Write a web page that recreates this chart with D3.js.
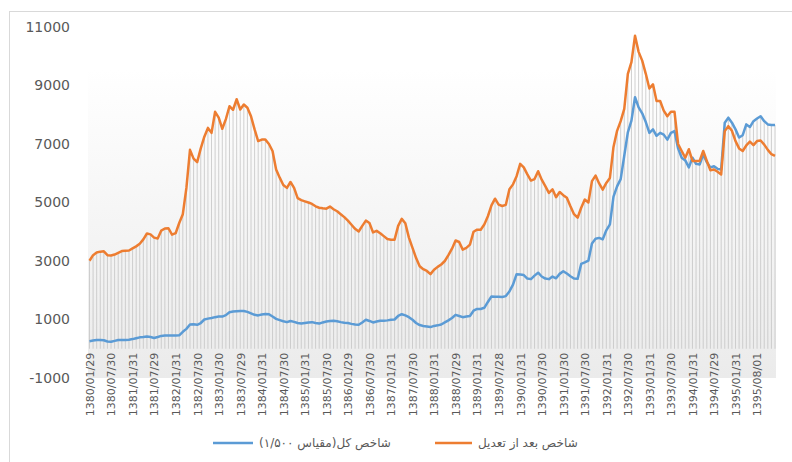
<!DOCTYPE html>
<html>
<head>
<meta charset="utf-8">
<script src="https://cdn.jsdelivr.net/npm/d3@7"></script>
<style>
  body { margin: 0; background: #fff; }
  svg { display: block; font-family: "DejaVu Sans", sans-serif; }
</style>
</head>
<body>
<script>
var width = 792,
    height = 462;

// six-monthly tick labels (every 6th monthly category)
var tickLabels = ['1380/01/29', '1380/07/30', '1381/01/31', '1381/07/29', '1382/01/31', '1382/07/30',
  '1383/01/30', '1383/07/29', '1384/01/31', '1384/07/30', '1385/01/31', '1385/07/30',
  '1386/01/29', '1386/07/30', '1387/01/31', '1387/07/30', '1388/01/31', '1388/07/29',
  '1389/01/31', '1389/07/28', '1390/01/31', '1390/07/30', '1391/01/30', '1391/07/30',
  '1392/01/31', '1392/07/30', '1393/01/31', '1393/07/30', '1394/01/31', '1394/07/29',
  '1395/01/31', '1395/08/01'];
var labelEvery = 6;

// شاخص کل (مقیاس ۱/۵۰۰) - monthly
var totalIndex = [
  260, 280, 300, 300, 290, 250, 240, 270, 300, 300, 300, 310, 330, 360, 390, 400, 420, 400, 370, 400,
  440, 450, 450, 450, 450, 460, 580, 680, 830, 840, 820, 880, 1000, 1030, 1050, 1080, 1100, 1100, 1150, 1250,
  1270, 1280, 1290, 1290, 1260, 1210, 1160, 1140, 1170, 1190, 1180, 1100, 1020, 980, 940, 910, 950, 920, 880, 860,
  880, 900, 910, 880, 860, 900, 930, 950, 960, 940, 910, 890, 880, 850, 830, 820, 900, 990, 950, 900,
  930, 960, 960, 970, 990, 1000, 1120, 1180, 1140, 1080, 990, 880, 810, 780, 760, 740, 780, 800, 830, 900,
  970, 1050, 1160, 1120, 1080, 1100, 1120, 1300, 1360, 1360, 1400, 1600, 1790, 1780, 1780, 1770, 1800, 1960, 2190, 2550,
  2540, 2520, 2400, 2380, 2500, 2600, 2470, 2400, 2380, 2470, 2410, 2560, 2650, 2570, 2480, 2400, 2390, 2900, 2950, 3010,
  3600, 3760, 3790, 3740, 4050, 4250, 5200, 5550, 5800, 6600, 7400, 7800, 8600, 8250, 8050, 7750, 7380, 7500, 7280, 7380,
  7320, 7150, 7380, 7440, 6850, 6530, 6440, 6200, 6530, 6320, 6300, 6640, 6380, 6200, 6240, 6150, 6130, 7730, 7900, 7730,
  7500, 7220, 7300, 7670, 7580, 7780, 7870, 7950, 7780, 7670, 7650, 7650
];

// شاخص بعد از تعدیل - monthly
var adjustedIndex = [
  3010, 3200, 3290, 3320, 3330, 3200, 3190, 3220, 3280, 3340, 3350, 3360, 3430, 3500, 3590, 3740, 3940, 3910, 3800, 3770,
  4040, 4110, 4120, 3900, 3950, 4300, 4600, 5500, 6800, 6500, 6380, 6850, 7250, 7550, 7380, 8100, 7900, 7520, 7850, 8290,
  8170, 8530, 8180, 8350, 8240, 7950, 7500, 7100, 7150, 7150, 7000, 6760, 6130, 5850, 5600, 5500, 5700, 5500, 5150, 5080,
  5040, 5000, 4950, 4870, 4820, 4800, 4790, 4860, 4770, 4700, 4600, 4500, 4380, 4240, 4100, 4010, 4200, 4380, 4300, 3980,
  4030, 3950, 3850, 3750, 3730, 3730, 4200, 4440, 4290, 3800, 3450, 3100, 2820, 2720, 2660, 2550, 2700, 2800, 2880, 3000,
  3200, 3420, 3700, 3650, 3390, 3450, 3560, 4000, 4070, 4070, 4250, 4530, 4900, 5130, 4930, 4880, 4920, 5450, 5620, 5900,
  6320, 6200, 5960, 5750, 5800, 6070, 5780, 5560, 5330, 5450, 5180, 5360, 5250, 5160, 4870, 4600, 4480, 4820, 5100, 5000,
  5730, 5920, 5650, 5440, 5670, 5840, 6900, 7450, 7780, 8200, 9400, 9800, 10700, 10150, 9850, 9400, 8900, 9040, 8470, 8470,
  8140, 7950, 8100, 8100, 7000, 6760, 6530, 6820, 6420, 6420, 6420, 6760, 6420, 6100, 6130, 6050, 5960, 7440, 7610, 7450,
  7100, 6850, 6760, 6950, 7080, 6960, 7100, 7120, 6980, 6800, 6650, 6590
];

var yTicks = [-1000, 1000, 3000, 5000, 7000, 9000, 11000];

var seriesNames = ['شاخص کل(مقیاس ۱/۵۰۰)', 'شاخص بعد از تعدیل'];
var blue = '#5b9bd5',
    orange = '#ed7d31';

var plot = { left: 88, right: 776, top: 27, bottom: 378 };

var svg = d3.select('body')
  .append('svg')
  .attr('width', width)
  .attr('height', height);

// chart border
svg.append('rect')
  .attr('x', 9.5).attr('y', 11.5)
  .attr('width', width).attr('height', height)
  .style('fill', '#fff')
  .style('stroke', '#d9d9d9');

var defs = svg.append('defs');
var grad = defs.append('linearGradient')
  .attr('id', 'bg')
  .attr('x1', 0).attr('y1', 0).attr('x2', 0).attr('y2', 1);
grad.append('stop').attr('offset', '0').attr('stop-color', '#ffffff');
grad.append('stop').attr('offset', '0.12').attr('stop-color', '#ffffff');
grad.append('stop').attr('offset', '1').attr('stop-color', '#ebebeb');

svg.append('rect')
  .attr('x', plot.left).attr('y', plot.top)
  .attr('width', plot.right - plot.left)
  .attr('height', plot.bottom - plot.top)
  .style('fill', 'url(#bg)');

var idx = d3.range(adjustedIndex.length);

var xScale = d3.scalePoint()
  .domain(idx)
  .range([89.5, 775]);

var yScale = d3.scaleLinear()
  .domain([-1000, 11000])
  .range([plot.bottom, plot.top]);

// drop lines
svg.append('g')
  .selectAll('line')
  .data(idx)
  .enter()
  .append('line')
  .attr('x1', (d) => xScale(d))
  .attr('x2', (d) => xScale(d))
  .attr('y1', yScale(0))
  .attr('y2', (d) => yScale(Math.max(totalIndex[d], adjustedIndex[d])))
  .style('stroke', '#c4c4c4')
  .style('stroke-width', 0.8);

var line = (arr) => d3.line()
  .x((d) => xScale(d))
  .y((d) => yScale(arr[d]));

svg.append('path')
  .datum(idx)
  .attr('d', line(totalIndex))
  .style('fill', 'none')
  .style('stroke', blue)
  .style('stroke-width', 2.5)
  .style('stroke-linejoin', 'round');

svg.append('path')
  .datum(idx)
  .attr('d', line(adjustedIndex))
  .style('fill', 'none')
  .style('stroke', orange)
  .style('stroke-width', 2.5)
  .style('stroke-linejoin', 'round');

// y axis
var yAxis = d3.axisLeft(yScale)
  .tickValues(yTicks)
  .tickFormat((d) => String(d))
  .tickSize(0)
  .tickPadding(0);

var gy = svg.append('g')
  .attr('transform', 'translate(70,0)')
  .call(yAxis);
gy.select('.domain').remove();
gy.selectAll('text')
  .style('font-size', '14px')
  .style('font-family', '"DejaVu Sans", sans-serif')
  .style('fill', '#595959');

// x axis labels
var xAxis = d3.axisBottom(xScale)
  .tickValues(tickLabels.map((t, i) => i * labelEvery))
  .tickFormat((d) => tickLabels[d / labelEvery])
  .tickSize(0);

var gx = svg.append('g')
  .attr('transform', 'translate(0,' + yScale(0) + ')')
  .call(xAxis);
gx.select('.domain').remove();
gx.selectAll('text')
  .attr('transform', 'rotate(-90)')
  .attr('x', -4)
  .attr('y', 0)
  .attr('dy', '0.35em')
  .attr('text-anchor', 'end')
  .style('font-size', '11px')
  .style('font-family', '"DejaVu Sans", sans-serif')
  .style('fill', '#595959');

// legend
var legend = [
  { name: seriesNames[0], color: blue, x1: 213, x2: 253 },
  { name: seriesNames[1], color: orange, x1: 435, x2: 472 }
];

var lg = svg.append('g');
legend.forEach((l) => {
  lg.append('line')
    .attr('x1', l.x1).attr('x2', l.x2)
    .attr('y1', 443).attr('y2', 443)
    .style('stroke', l.color)
    .style('stroke-width', 2.5);
  lg.append('text')
    .attr('x', l.x2 + 6)
    .attr('y', 447)
    .attr('text-anchor', 'start')
    .style('font-size', '12px')
    .style('fill', '#595959')
    .text(l.name);
});
</script>
</body>
</html>
